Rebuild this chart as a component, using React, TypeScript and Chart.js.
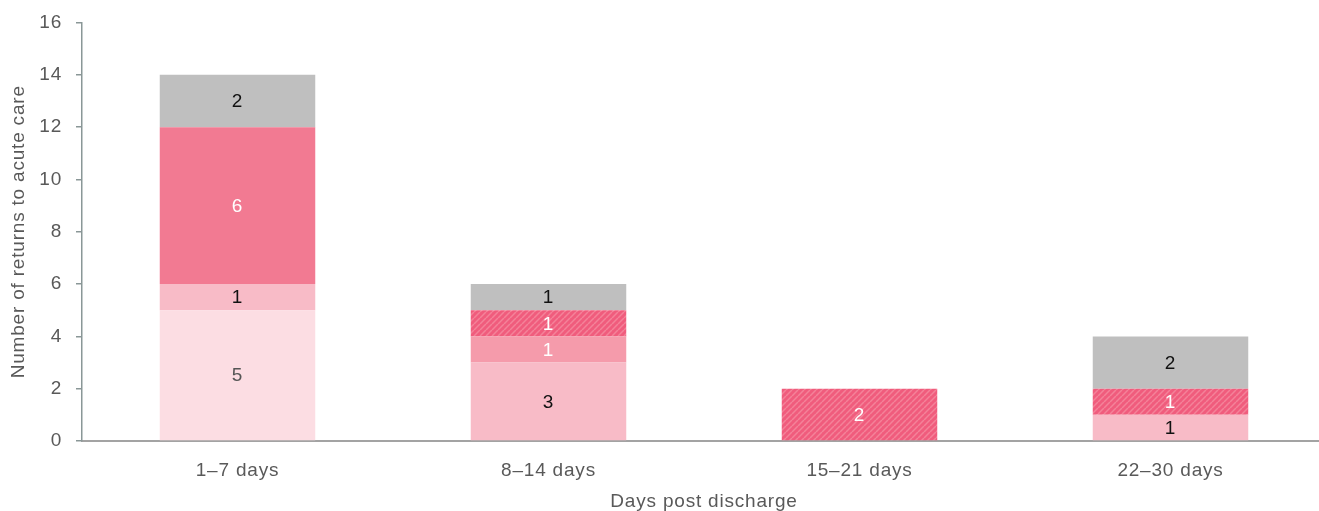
import { useEffect, useRef } from 'react';
import { Chart, registerables } from 'chart.js';

Chart.register(...registerables);

// Days after discharge
const categories = ['1–7 days', '8–14 days', '15–21 days', '22–30 days'];

// Stacked segments, bottom to top
const seriesA = [5, 0, 0, 0];
const seriesB = [1, 3, 0, 1];
const seriesC = [0, 1, 0, 0];
const seriesD = [6, 0, 0, 0];
const seriesE = [0, 1, 2, 1];
const seriesF = [2, 1, 0, 2];

const yTicks = [0, 2, 4, 6, 8, 10, 12, 14, 16];

const FONT = "'Liberation Sans', Arial, sans-serif";
const FONT_SIZE = 19;
const TEXT = '#595959';

function makeHatch(): CanvasPattern | string {
  const size = 6;
  const c = document.createElement('canvas');
  c.width = size;
  c.height = size;
  const g = c.getContext('2d');
  if (!g) return '#F05C7D';
  g.fillStyle = '#F05C7D';
  g.fillRect(0, 0, size, size);
  g.strokeStyle = '#F48299';
  g.lineWidth = 1.5;
  for (let k = -1; k <= 1; k++) {
    g.beginPath();
    g.moveTo(k * size, size);
    g.lineTo(k * size + size, 0);
    g.stroke();
  }
  const p = g.createPattern(c, 'repeat');
  return p || '#F05C7D';
}

// Slightly open tracking for all chart text
const textSpacing = {
  id: 'textSpacing',
  beforeDraw(chart: any) {
    (chart.ctx as any).letterSpacing = '0.8px';
  },
};

const segmentLabels = {
  id: 'segmentLabels',
  afterDatasetsDraw(chart: any) {
    const ctx = chart.ctx as CanvasRenderingContext2D;
    ctx.save();
    (ctx as any).letterSpacing = '0.8px';
    ctx.font = `${FONT_SIZE}px ${FONT}`;
    ctx.textAlign = 'center';
    ctx.textBaseline = 'middle';
    chart.data.datasets.forEach((ds: any, i: number) => {
      const meta = chart.getDatasetMeta(i);
      meta.data.forEach((bar: any, j: number) => {
        const v = ds.data[j];
        if (!v) return;
        const { x, y, base } = bar.getProps(['x', 'y', 'base'], true);
        ctx.fillStyle = ds.labelColor;
        ctx.fillText(String(v), x, (y + base) / 2 + 1);
      });
    });
    ctx.restore();
  },
};

export default function App() {
  const ref = useRef<HTMLCanvasElement | null>(null);

  useEffect(() => {
    if (!ref.current) return;
    const hatch = makeHatch();
    const mk = (data: number[], color: any, labelColor: string) => ({
      data,
      backgroundColor: color,
      borderWidth: 0,
      labelColor,
      barPercentage: 0.5,
      categoryPercentage: 1,
    });
    const chart = new Chart(ref.current, {
      type: 'bar',
      data: {
        labels: categories,
        datasets: [
          mk(seriesA, '#FCDDE3', '#555555'),
          mk(seriesB, '#F8BBC7', '#111111'),
          mk(seriesC, '#F59BAB', '#FFFFFF'),
          mk(seriesD, '#F27A92', '#FFFFFF'),
          mk(seriesE, hatch, '#FFFFFF'),
          mk(seriesF, '#BFBFBF', '#111111'),
        ] as any,
      },
      options: {
        responsive: false,
        animation: false,
        devicePixelRatio: 1,
        layout: { padding: { top: 22.5, right: 4, left: 0, bottom: 0 } },
        plugins: {
          legend: { display: false },
          tooltip: { enabled: false },
        },
        scales: {
          x: {
            stacked: true,
            grid: { display: false, drawTicks: false },
            border: { display: true, color: '#A3A3A3', width: 2 },
            ticks: {
              color: TEXT,
              font: { family: FONT, size: FONT_SIZE },
              padding: 18,
            },
            title: {
              display: true,
              text: 'Days post discharge',
              color: TEXT,
              font: { family: FONT, size: FONT_SIZE },
              padding: { top: 0, bottom: 17 },
            },
            afterFit: (s: any) => {
              s.height = 89;
              s.paddingLeft = 0;
              s.paddingRight = 0;
            },
          },
          y: {
            stacked: true,
            min: 0,
            max: 16,
            afterBuildTicks: (s: any) => {
              s.ticks = yTicks.map((v) => ({ value: v }));
            },
            grid: {
              drawOnChartArea: false,
              drawTicks: true,
              tickLength: 6,
              color: '#8A9797',
              lineWidth: 1.5,
            },
            border: { display: true, color: '#8A9797', width: 1.5 },
            ticks: {
              color: TEXT,
              font: { family: FONT, size: FONT_SIZE },
              padding: 14,
            },
            title: {
              display: true,
              text: 'Number of returns to acute care',
              color: TEXT,
              font: { family: FONT, size: FONT_SIZE },
              padding: { top: 7, bottom: 0 },
            },
            afterFit: (s: any) => {
              s.width = 82;
              s.paddingTop = 0;
              s.paddingBottom = 0;
            },
          },
        },
      },
      plugins: [textSpacing, segmentLabels],
    });
    return () => chart.destroy();
  }, []);

  return (
    <div
      style={{
        position: 'fixed',
        left: 0,
        top: 0,
        width: 1319,
        height: 511,
        overflow: 'hidden',
        background: '#FFFFFF',
      }}
    >
      <canvas ref={ref} width={1330} height={530} style={{ display: 'block' }} />
    </div>
  );
}
